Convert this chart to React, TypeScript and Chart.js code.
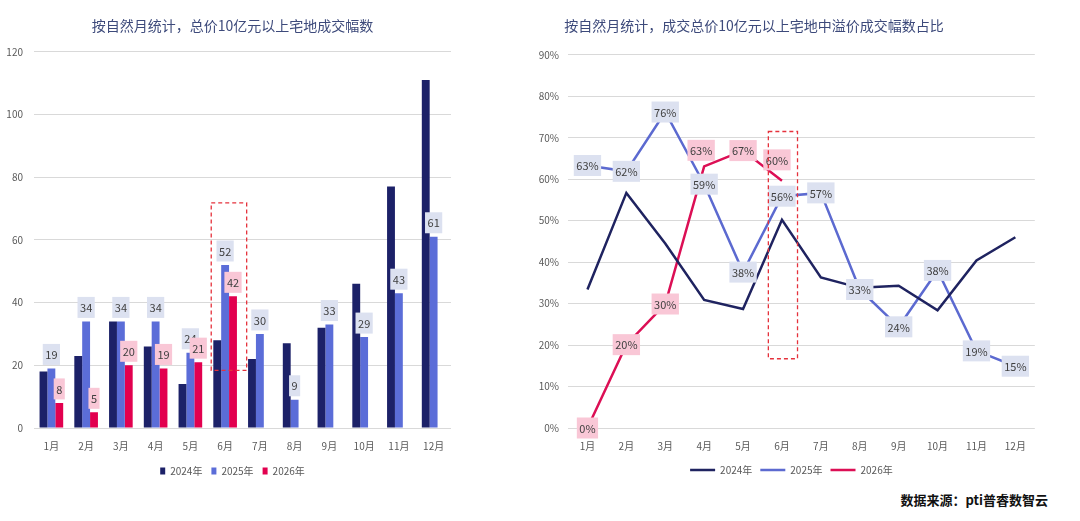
import React, { useEffect, useRef } from "react";
import { Chart, ChartConfiguration, registerables } from "chart.js";

Chart.register(...registerables);

// ---- data ----
const months = ["1月", "2月", "3月", "4月", "5月", "6月", "7月", "8月", "9月", "10月", "11月", "12月"];
const years = ["2024年", "2025年", "2026年"];

// 总价10亿元以上宅地成交幅数
const deals2024 = [18, 23, 34, 26, 14, 28, 22, 27, 32, 46, 77, 111];
const deals2025 = [19, 34, 34, 34, 24, 52, 30, 9, 33, 29, 43, 61];
const deals2026 = [8, 5, 20, 19, 21, 42, null, null, null, null, null, null];

// 溢价成交幅数占比
const share2024 = [0.334, 0.567, 0.445, 0.309, 0.287, 0.502, 0.363, 0.338, 0.343, 0.284, 0.404, 0.46];
const share2025 = [0.633, 0.619, 0.762, 0.588, 0.376, 0.559, 0.567, 0.334, 0.244, 0.38, 0.186, 0.149];
const share2026 = [0, 0.201, 0.299, 0.631, 0.669, 0.596, null, null, null, null, null, null];

const dealsTitle = "按自然月统计，总价10亿元以上宅地成交幅数";
const shareTitle = "按自然月统计，成交总价10亿元以上宅地中溢价成交幅数占比";
const sourceNote = "数据来源：pti普睿数智云";

// ---- styles ----
const FONT = "'Noto Sans CJK SC', 'Noto Sans', sans-serif";
const NAVY = "#1c2168";
const BLUE = "#5b6dd8";
const RED = "#e2004f";
const NAVY_LINE = "#1f2360";
const BLUE_LINE = "#5c6ad0";
const RED_LINE = "#dc0f55";
const GRID = "#d9d9d9";
const TICK = "#595959";
const BLUE_TAG = "#dce1f0";
const PINK_TAG = "#f9c7d6";
const TAG_TEXT = "#404040";
const TITLE = "#3d4a7b";

// the boxed month in each chart (category index range, value range)
const dealsFocus = { from: 4.6, to: 5.62, low: 18.4, high: 71.8 };
const shareFocus = { from: 4.65, to: 5.4, low: 0.167, high: 0.715 };

// a couple of 2026 tags were nudged off the line in the original
const shareTagNudge: Record<number, [number, number]> = { 3: [-3, -16], 5: [-5, -21] };

Chart.defaults.font.family = FONT;
Chart.defaults.color = TICK;

type TagSet = {
  dataset: number;
  fill: string;
  fmt: (v: number) => string;
  lift: number;
  nudge?: Record<number, [number, number]>;
};

function tagPlugin(id: string, sets: TagSet[]) {
  return {
    id,
    afterDatasetsDraw(chart: Chart) {
      const ctx = chart.ctx;
      ctx.save();
      ctx.font = `11px ${FONT}`;
      ctx.textAlign = "center";
      ctx.textBaseline = "middle";
      sets.forEach((s) => {
        const values = chart.data.datasets[s.dataset].data as (number | null)[];
        chart.getDatasetMeta(s.dataset).data.forEach((el: any, i: number) => {
          const v = values[i];
          if (v == null) return;
          const [dx, dy] = (s.nudge && s.nudge[i]) || [0, 0];
          const x = el.x + dx;
          const y = el.y - s.lift + dy;
          const text = s.fmt(v);
          const w = ctx.measureText(text).width + 5;
          const h = 21;
          ctx.fillStyle = s.fill;
          ctx.fillRect(x - w / 2, y - h / 2, w, h);
          ctx.fillStyle = TAG_TEXT;
          ctx.fillText(text, x, y + 0.5);
        });
      });
      ctx.restore();
    },
  };
}

function focusPlugin(id: string, box: { from: number; to: number; low: number; high: number }) {
  return {
    id,
    afterDraw(chart: Chart) {
      const { x, y } = chart.scales;
      const left = x.getPixelForValue(box.from);
      const right = x.getPixelForValue(box.to);
      const top = y.getPixelForValue(box.high);
      const bottom = y.getPixelForValue(box.low);
      const ctx = chart.ctx;
      ctx.save();
      ctx.strokeStyle = "#e5323c";
      ctx.lineWidth = 1.3;
      ctx.setLineDash([4, 3]);
      ctx.strokeRect(left, top, right - left, bottom - top);
      ctx.restore();
    },
  };
}

// the original title / legend are not centred on the plot; slide them sideways
function blockShift(titleDx: number, legendDx: number) {
  return {
    id: "blockShift",
    afterLayout(chart: Chart) {
      const c: any = chart;
      if (c.titleBlock) {
        c.titleBlock.left += titleDx;
        c.titleBlock.right += titleDx;
      }
      if (c.legend) {
        c.legend.left += legendDx;
        c.legend.right += legendDx;
      }
    },
  };
}

function dealsConfig(): ChartConfiguration<"bar"> {
  return {
    type: "bar",
    data: {
      labels: months,
      datasets: [
        { label: years[0], data: deals2024, backgroundColor: NAVY },
        { label: years[1], data: deals2025, backgroundColor: BLUE },
        { label: years[2], data: deals2026 as any, backgroundColor: RED },
      ],
    },
    options: {
      animation: false,
      responsive: true,
      maintainAspectRatio: false,
      layout: { padding: { left: 0, right: 15, top: 0, bottom: 4 } },
      datasets: { bar: { categoryPercentage: 0.68, barPercentage: 1 } },
      scales: {
        x: {
          grid: { display: false, drawTicks: false },
          border: { display: false },
          ticks: { padding: 12, font: { size: 10 }, color: TICK },
          afterFit: (s: any) => {
            s.height = 29;
          },
        },
        y: {
          min: 0,
          max: 120,
          ticks: { stepSize: 20, padding: 11, font: { size: 10 }, color: TICK },
          grid: { color: GRID, drawTicks: false },
          border: { display: false },
          afterFit: (s: any) => {
            s.width = 34;
          },
        },
      },
      plugins: {
        title: {
          display: true,
          text: dealsTitle,
          color: TITLE,
          font: { size: 14, weight: "normal" },
          padding: { top: 17, bottom: 18 },
        },
        legend: {
          position: "bottom",
          labels: { boxWidth: 5, boxHeight: 7, padding: 9, font: { size: 10 }, color: TICK },
        },
        tooltip: { enabled: false },
      },
    },
    plugins: [
      tagPlugin("dealTags", [
        { dataset: 1, fill: BLUE_TAG, fmt: (v) => String(v), lift: 14 },
        { dataset: 2, fill: PINK_TAG, fmt: (v) => String(v), lift: 14 },
      ]),
      focusPlugin("dealFocus", dealsFocus),
      blockShift(7, 7),
    ],
  };
}

const pct = (v: number) => `${Math.round(v * 100)}%`;

function shareConfig(): ChartConfiguration<"line"> {
  return {
    type: "line",
    data: {
      labels: months,
      datasets: [
        { label: years[0], data: share2024, borderColor: NAVY_LINE, backgroundColor: NAVY_LINE },
        { label: years[1], data: share2025, borderColor: BLUE_LINE, backgroundColor: BLUE_LINE },
        { label: years[2], data: share2026 as any, borderColor: RED_LINE, backgroundColor: RED_LINE },
      ],
    },
    options: {
      animation: false,
      responsive: true,
      maintainAspectRatio: false,
      layout: { padding: { left: 0, right: 2, top: 0, bottom: 5 } },
      datasets: { line: { borderWidth: 2.5, pointRadius: 0, tension: 0 } },
      scales: {
        x: {
          offset: true,
          grid: { display: false, drawTicks: false },
          border: { display: false },
          ticks: { padding: 12, font: { size: 10 }, color: TICK },
          afterFit: (s: any) => {
            s.height = 29;
          },
        },
        y: {
          min: 0,
          max: 0.9,
          ticks: { stepSize: 0.1, padding: 9, font: { size: 10 }, color: TICK, callback: (v: any) => pct(Number(v)) },
          grid: { color: GRID, drawTicks: false },
          border: { display: false },
          afterFit: (s: any) => {
            s.width = 96;
          },
        },
      },
      plugins: {
        title: {
          display: true,
          text: shareTitle,
          color: TITLE,
          font: { size: 14, weight: "normal" },
          padding: { top: 17, bottom: 21 },
        },
        legend: {
          position: "bottom",
          fullSize: false,
          labels: {
            usePointStyle: true,
            pointStyle: "line",
            pointStyleWidth: 25,
            padding: 8,
            font: { size: 10 },
            color: TICK,
          },
        },
        tooltip: { enabled: false },
      },
    },
    plugins: [
      tagPlugin("shareTags", [
        { dataset: 1, fill: BLUE_TAG, fmt: pct, lift: 0 },
        { dataset: 2, fill: PINK_TAG, fmt: pct, lift: 0, nudge: shareTagNudge },
      ]),
      focusPlugin("shareFocus", shareFocus),
      blockShift(0, -10),
    ],
  };
}

const ChartBox: React.FC<{ make: () => ChartConfiguration<any>; style: React.CSSProperties }> = ({ make, style }) => {
  const ref = useRef<HTMLCanvasElement | null>(null);

  useEffect(() => {
    if (!ref.current) return;
    const chart = new Chart(ref.current, make());
    return () => {
      chart.destroy();
    };
  }, [make]);

  return (
    <div style={{ position: "absolute", ...style }}>
      <canvas ref={ref}></canvas>
    </div>
  );
};

export default function App() {
  return (
    <div style={{ position: "fixed", left: 0, top: 0, width: 1080, height: 521, background: "#fff" }}>
      <ChartBox make={dealsConfig} style={{ left: 0, top: 0, width: 466, height: 490 }} />
      <ChartBox make={shareConfig} style={{ left: 472, top: 0, width: 566, height: 490 }} />
      <div
        style={{
          position: "absolute",
          right: 32,
          top: 491,
          font: `bold 13px ${FONT}`,
          lineHeight: "18px",
          color: "#111",
          whiteSpace: "nowrap",
        }}
      >
        {sourceNote}
      </div>
    </div>
  );
}
